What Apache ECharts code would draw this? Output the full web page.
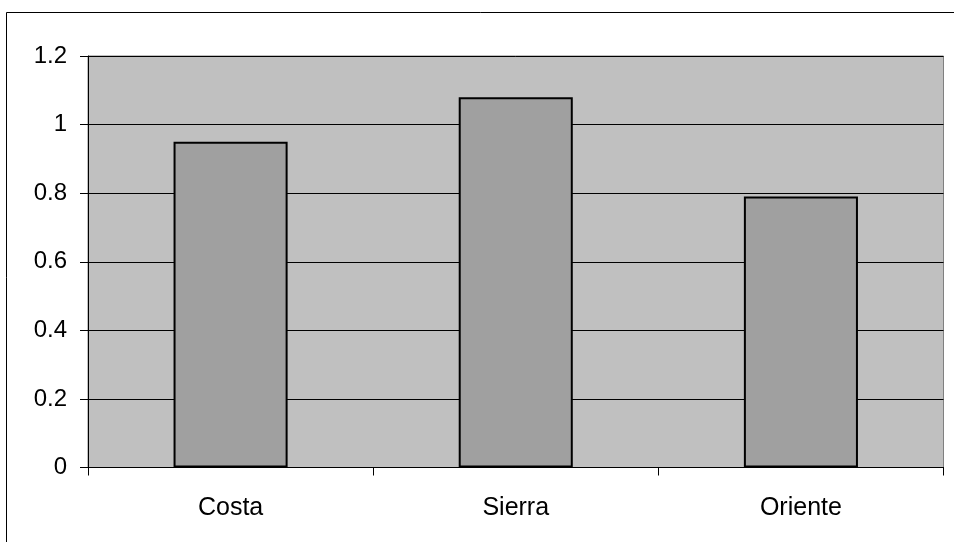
<!DOCTYPE html>
<html>
<head>
<meta charset="utf-8">
<script src="https://cdn.jsdelivr.net/npm/echarts@6/dist/echarts.min.js"></script>
<style>
  html, body { margin: 0; padding: 0; background: #fff; }
  #chart { width: 954px; height: 542px; }
</style>
</head>
<body>
<div id="chart"></div>
<script>
// Regions and their values
const regions = ['Costa', 'Sierra', 'Oriente'];
const values = [0.95, 1.08, 0.79];
const yTicks = [0, 0.2, 0.4, 0.6, 0.8, 1, 1.2];

const chart = echarts.init(document.getElementById('chart'), null, { renderer: 'canvas' });

const fontFamily = '"Liberation Sans", Arial, sans-serif';

chart.setOption({
  animation: false,
  backgroundColor: '#ffffff',
  graphic: [{
    type: 'rect',
    shape: { x: 6.5, y: 12.5, width: 960, height: 540 },
    style: { fill: 'none', stroke: '#000', lineWidth: 1 },
    silent: true
  }],
  grid: {
    left: 88,
    top: 56,
    right: 10.5,
    bottom: 74.5,
    show: true,
    backgroundColor: '#c0c0c0',
    borderColor: '#808080',
    borderWidth: 1
  },
  xAxis: {
    type: 'category',
    data: regions,
    boundaryGap: true,
    axisLine: { show: true, lineStyle: { color: '#000', width: 1 } },
    axisTick: { show: true, interval: 0, length: 8, alignWithLabel: false, lineStyle: { color: '#000' } },
    axisLabel: { color: '#000', fontSize: 25, fontFamily: fontFamily, margin: 28 },
    splitLine: { show: false }
  },
  yAxis: {
    type: 'value',
    min: yTicks[0],
    max: yTicks[yTicks.length - 1],
    interval: 0.2,
    axisLine: { show: true, lineStyle: { color: '#000', width: 1 } },
    axisTick: { show: true, length: 8, lineStyle: { color: '#000' } },
    axisLabel: {
      color: '#000', fontSize: 24, fontFamily: fontFamily, margin: 21,
      formatter: function (v) { return String(Math.round(v * 10) / 10); }
    },
    splitLine: { show: true, lineStyle: { color: '#000', width: 1 } }
  },
  series: [{
    type: 'bar',
    data: values,
    barCategoryGap: '60%',
    itemStyle: { color: '#a0a0a0', borderColor: '#000', borderWidth: 2 }
  }]
});
</script>
</body>
</html>
